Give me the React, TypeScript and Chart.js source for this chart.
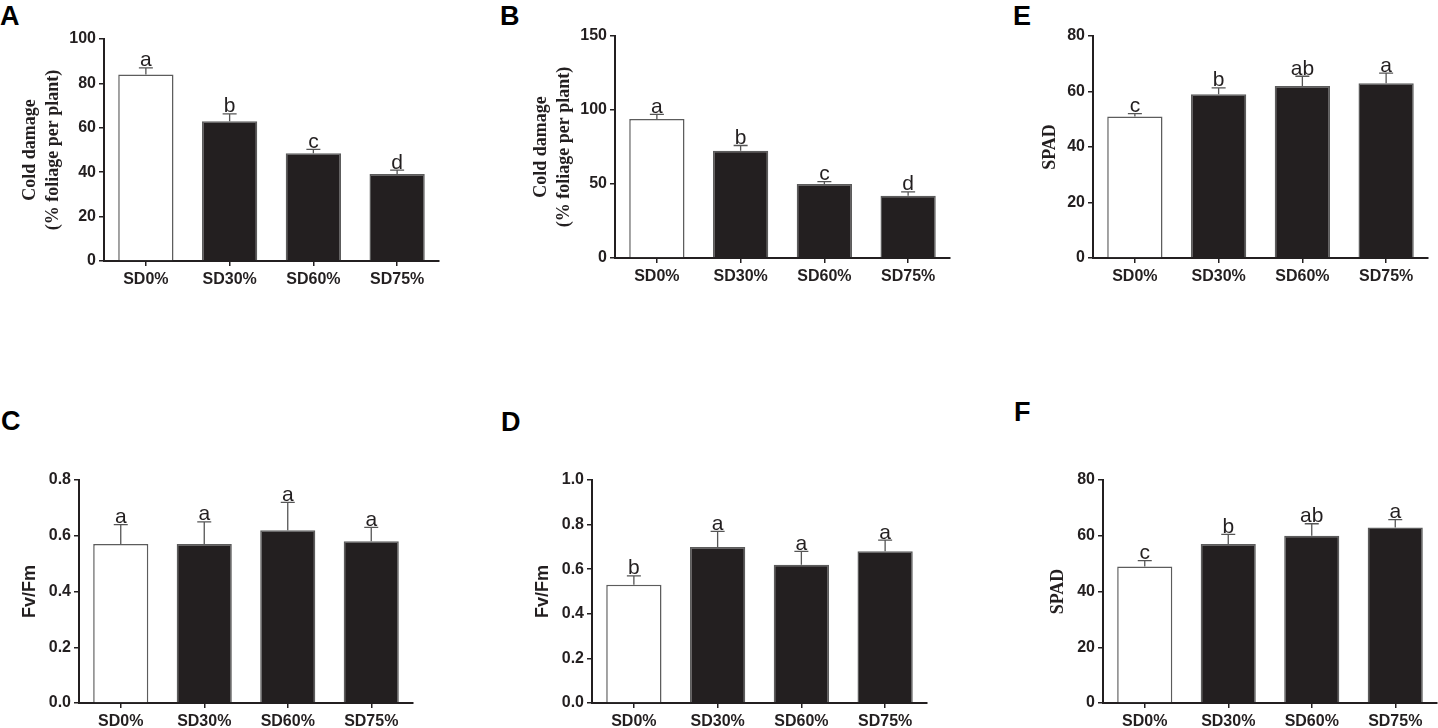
import React, { useEffect, useRef } from "react";
import { Chart, registerables } from "chart.js";

Chart.register(...registerables);

// categories shared by every panel
const categories = ["SD0%", "SD30%", "SD60%", "SD75%"];

// A - cold damage (first trial)
const coldDamageA = [84, 63, 48.5, 39.2];
const coldDamageAErr = [3, 3.3, 1.8, 1.7];
const lettersA = ["a", "b", "c", "d"];
const ticksA = [0, 20, 40, 60, 80, 100];

// B - cold damage (second trial)
const coldDamageB = [94, 72.5, 50, 42];
const coldDamageBErr = [3, 3.5, 1.6, 2.7];
const lettersB = ["a", "b", "c", "d"];
const ticksB = [0, 50, 100, 150];

// E - SPAD
const spadE = [51, 59, 62, 63];
const spadEErr = [1, 2.3, 3.5, 3.6];
const lettersE = ["c", "b", "ab", "a"];
const ticksE = [0, 20, 40, 60, 80];

// C - Fv/Fm
const fvfmC = [0.57, 0.57, 0.62, 0.58];
const fvfmCErr = [0.07, 0.08, 0.1, 0.05];
const lettersC = ["a", "a", "a", "a"];
const ticksC = [0, 0.2, 0.4, 0.6, 0.8];

// D - Fv/Fm
const fvfmD = [0.53, 0.7, 0.62, 0.68];
const fvfmDErr = [0.04, 0.07, 0.06, 0.05];
const lettersD = ["b", "a", "a", "a"];
const ticksD = [0, 0.2, 0.4, 0.6, 0.8, 1.0];

// F - SPAD
const spadF = [49, 57, 60, 63];
const spadFErr = [2.1, 3.5, 4.3, 2.8];
const lettersF = ["c", "b", "ab", "a"];
const ticksF = [0, 20, 40, 60, 80];

const INK = "#231f20";
const barFill = ["#ffffff", INK, INK, INK];
const SANS = "Arial, 'Liberation Sans', Helvetica, sans-serif";
const SERIF = "'Times New Roman', 'Liberation Serif', serif";

// space around the plot area inside each canvas
const YW = 100;
const PT = 30;
const PR = 12;
const XH = 45;

// error bars + significance letters
const sigPlugin = {
  id: "sigBars",
  afterDatasetsDraw(chart: any, _args: any, opts: any) {
    const { ctx } = chart;
    const y = chart.scales.y;
    const meta = chart.getDatasetMeta(0);
    const values = chart.data.datasets[0].data as number[];
    ctx.save();
    meta.data.forEach((bar: any, i: number) => {
      const top = y.getPixelForValue(values[i] + opts.errors[i]);
      ctx.strokeStyle = "#555";
      ctx.lineWidth = 1.3;
      ctx.beginPath();
      ctx.moveTo(bar.x, bar.y);
      ctx.lineTo(bar.x, top);
      ctx.moveTo(bar.x - 7, top);
      ctx.lineTo(bar.x + 7, top);
      ctx.stroke();
      ctx.fillStyle = INK;
      ctx.font = `21px ${SANS}`;
      ctx.textAlign = "center";
      ctx.textBaseline = "alphabetic";
      ctx.fillText(opts.letters[i], bar.x, top - 1.5);
    });
    ctx.restore();
  },
};

type PanelProps = {
  box: [number, number, number, number]; // plot area left, top, right, bottom
  values: number[];
  errors: number[];
  letters: string[];
  yTicks: number[];
  decimals: number;
  title: string | string[];
  serif: boolean;
  titleOffset: number; // distance from y axis to first title line centre
};

function Panel(p: PanelProps) {
  const ref = useRef<HTMLCanvasElement>(null);

  useEffect(() => {
    if (!ref.current) return;
    const lineHeight = p.serif ? 1.28 : 1.2;
    const lhPx = 18 * lineHeight;
    const chart = new Chart(ref.current, {
      type: "bar",
      data: {
        labels: categories,
        datasets: [
          {
            data: p.values,
            backgroundColor: barFill,
            borderColor: "#5c5c5c",
            borderWidth: 1.5,
            barPercentage: 0.66,
            categoryPercentage: 1,
          },
        ],
      },
      options: {
        animation: false,
        responsive: true,
        maintainAspectRatio: false,
        layout: { padding: { left: 0, top: PT, right: PR, bottom: 0 } },
        plugins: {
          legend: { display: false },
          tooltip: { enabled: false },
          sigBars: { errors: p.errors, letters: p.letters },
        } as any,
        scales: {
          x: {
            offset: true,
            grid: {
              offset: false,
              drawOnChartArea: false,
              drawTicks: true,
              tickLength: 5,
              color: INK,
              lineWidth: 1.5,
            },
            border: { display: true, color: INK, width: 2 },
            ticks: {
              color: INK,
              padding: 4,
              font: { family: SANS, size: 16, weight: "bold" },
            },
            afterFit: (s: any) => {
              s.height = XH;
            },
          },
          y: {
            min: 0,
            max: p.yTicks[p.yTicks.length - 1],
            afterBuildTicks: (s: any) => {
              s.ticks = p.yTicks.map((value) => ({ value }));
            },
            grid: {
              drawOnChartArea: false,
              drawTicks: true,
              tickLength: 5,
              color: INK,
              lineWidth: 1.5,
            },
            border: { display: true, color: INK, width: 2 },
            ticks: {
              color: INK,
              padding: 3,
              font: { family: SANS, size: 16, weight: "bold" },
              callback: (v: any) => Number(v).toFixed(p.decimals),
            },
            title: {
              display: true,
              text: p.title,
              color: INK,
              font: {
                family: p.serif ? SERIF : SANS,
                size: 18,
                weight: "bold",
                lineHeight,
              },
              padding: { top: YW - p.titleOffset - lhPx / 2, bottom: 0 },
            },
            afterFit: (s: any) => {
              s.width = YW;
            },
          },
        },
      },
      plugins: [sigPlugin],
    });
    return () => chart.destroy();
  }, []);

  const [l, t, r, b] = p.box;
  return (
    <div
      style={{
        position: "absolute",
        left: l - YW,
        top: t - PT,
        width: r - l + YW + PR,
        height: b - t + PT + XH,
      }}
    >
      <canvas ref={ref}></canvas>
    </div>
  );
}

const PanelLetter = ({ text, left, top }: { text: string; left: number; top: number }) => (
  <div
    style={{
      position: "absolute",
      left,
      top,
      fontFamily: SANS,
      fontWeight: "bold",
      fontSize: 27,
      lineHeight: 1,
      color: "#000",
    }}
  >
    {text}
  </div>
);

const App: React.FC = () => {
  useEffect(() => {
    document.body.style.margin = "0";
  }, []);

  const cold = ["Cold damage", "(% foliage per plant)"];

  return (
    <div
      style={{
        position: "relative",
        width: 1438,
        height: 728,
        overflow: "hidden",
        background: "#fff",
      }}
    >
      <PanelLetter text="A" left={0} top={3} />
      <PanelLetter text="B" left={500} top={3} />
      <PanelLetter text="E" left={1013} top={3} />
      <PanelLetter text="C" left={1} top={408} />
      <PanelLetter text="D" left={501} top={409} />
      <PanelLetter text="F" left={1014} top={399} />

      <Panel box={[104, 39, 439, 261]} values={coldDamageA} errors={coldDamageAErr}
        letters={lettersA} yTicks={ticksA} decimals={0} title={cold} serif titleOffset={74} />
      <Panel box={[615, 36, 950, 258]} values={coldDamageB} errors={coldDamageBErr}
        letters={lettersB} yTicks={ticksB} decimals={0} title={cold} serif titleOffset={74} />
      <Panel box={[1093, 36, 1428, 258]} values={spadE} errors={spadEErr}
        letters={lettersE} yTicks={ticksE} decimals={0} title="SPAD" serif titleOffset={43} />
      <Panel box={[79, 480, 413, 703]} values={fvfmC} errors={fvfmCErr}
        letters={lettersC} yTicks={ticksC} decimals={1} title="Fv/Fm" serif={false} titleOffset={49} />
      <Panel box={[592, 480, 927, 703]} values={fvfmD} errors={fvfmDErr}
        letters={lettersD} yTicks={ticksD} decimals={1} title="Fv/Fm" serif={false} titleOffset={49} />
      <Panel box={[1103, 480, 1437, 703]} values={spadF} errors={spadFErr}
        letters={lettersF} yTicks={ticksF} decimals={0} title="SPAD" serif titleOffset={45} />
    </div>
  );
};

export default App;
